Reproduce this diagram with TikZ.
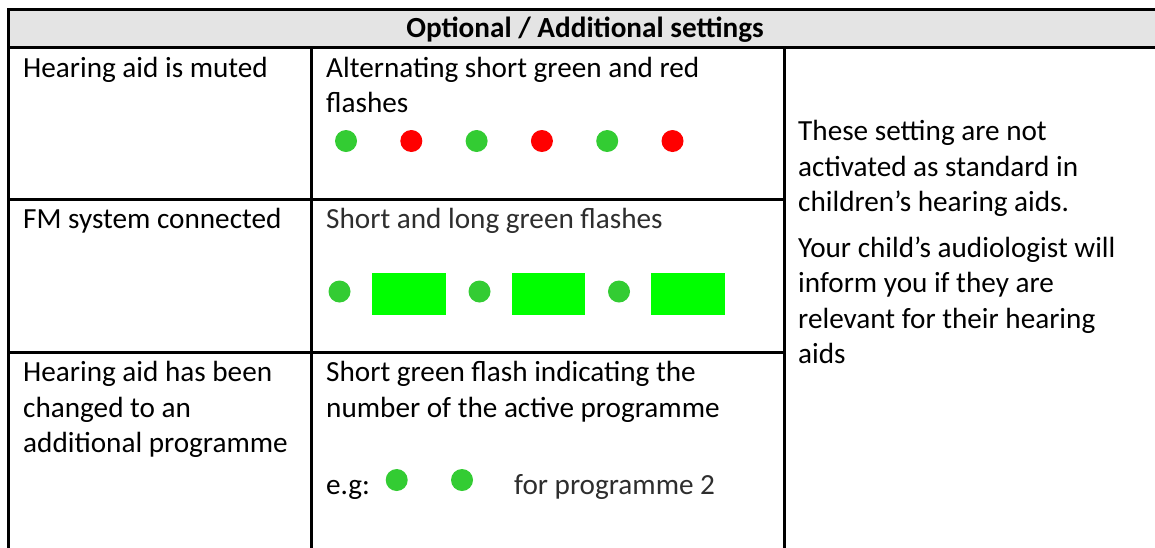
\documentclass[tikz,border=0pt]{standalone}
\usepackage{fontspec}
\setmainfont{Carlito}
\definecolor{hdrgray}{RGB}{228,228,228}
\definecolor{dotgreen}{RGB}{51,204,51}
\definecolor{dotred}{RGB}{255,0,0}
\definecolor{longgreen}{RGB}{0,255,0}
\begin{document}
\begin{tikzpicture}[x=1pt,y=-1pt,
  txt/.style={anchor=base west, inner sep=0pt, font=\fontsize{29.2}{35.5}\selectfont},
  lighttxt/.style={txt, text=black!82},
  hdr/.style={anchor=base, inner sep=0pt, font=\fontsize{29.2}{35.5}\selectfont\bfseries},
  gridline/.style={line width=3pt, line cap=rect},
  gdot/.style={fill=dotgreen},
  rdot/.style={fill=dotred},
  lflash/.style={fill=longgreen}]
\useasboundingbox (0,0) rectangle (1155,547);
\clip (0,0) rectangle (1155,547);
\fill[white] (0,0) rectangle (1155,547);
% header
\fill[hdrgray] (8.5,9.5) rectangle (1170,47.5);
\node[hdr] (head) at (585,37) {Optional / Additional settings};
% grid
\draw[gridline] (8.5,560) -- (8.5,9.5) -- (1170,9.5);
\draw[gridline] (8.5,47.5) -- (1170,47.5);
\draw[gridline] (311.5,47.5) -- (311.5,560);
\draw[gridline] (784,47.5) -- (784,560);
\draw[gridline] (8.5,199) -- (784,199);
\draw[gridline] (8.5,352) -- (784,352);
% row 1
\node[txt] (r1a) at (23,77) {Hearing aid is muted};
\node[txt] (r1b1) at (326,77) {Alternating short green and red};
\node[txt] (r1b2) at (326,112.5) {flashes};
\foreach \i/\s in {0/gdot,1/rdot,2/gdot,3/rdot,4/gdot,5/rdot}
  \path[\s] ({346+65.3*\i},141) circle[radius=11pt];
% row 2
\node[txt] (r2a) at (23,228.5) {FM system connected};
\node[lighttxt] (r2b) at (326,228.5) {Short and long green flashes};
\foreach \cx in {339.5,479.5,619}
  \path[gdot] (\cx,291.5) circle[radius=11pt];
\path[lflash] (372,273) rectangle (446,315);
\path[lflash] (512,273) rectangle (585,315);
\path[lflash] (651,273) rectangle (725,315);
% row 3
\node[txt] (r3a1) at (23,381.5) {Hearing aid has been};
\node[txt] (r3a2) at (23,417) {changed to an};
\node[txt] (r3a3) at (23,452.5) {additional programme};
\node[txt] (r3b1) at (326,381.5) {Short green flash indicating the};
\node[txt] (r3b2) at (326,417) {number of the active programme};
\node[txt] (r3b3) at (326,494) {e.g:};
\path[gdot] (396.7,480) circle[radius=11pt];
\path[gdot] (462,480) circle[radius=11pt];
\node[lighttxt] (r3b4) at (514,494) {for programme 2};
% column 3
\node[txt] (c1) at (798,140.5) {These setting are not};
\node[txt] (c2) at (798,176) {activated as standard in};
\node[txt] (c3) at (798,211.5) {children’s hearing aids.};
\node[txt] (c4) at (798,257) {Your child’s audiologist will};
\node[txt] (c5) at (798,292.5) {inform you if they are};
\node[txt] (c6) at (798,328) {relevant for their hearing};
\node[txt] (c7) at (798,363.5) {aids};
\end{tikzpicture}
\end{document}
